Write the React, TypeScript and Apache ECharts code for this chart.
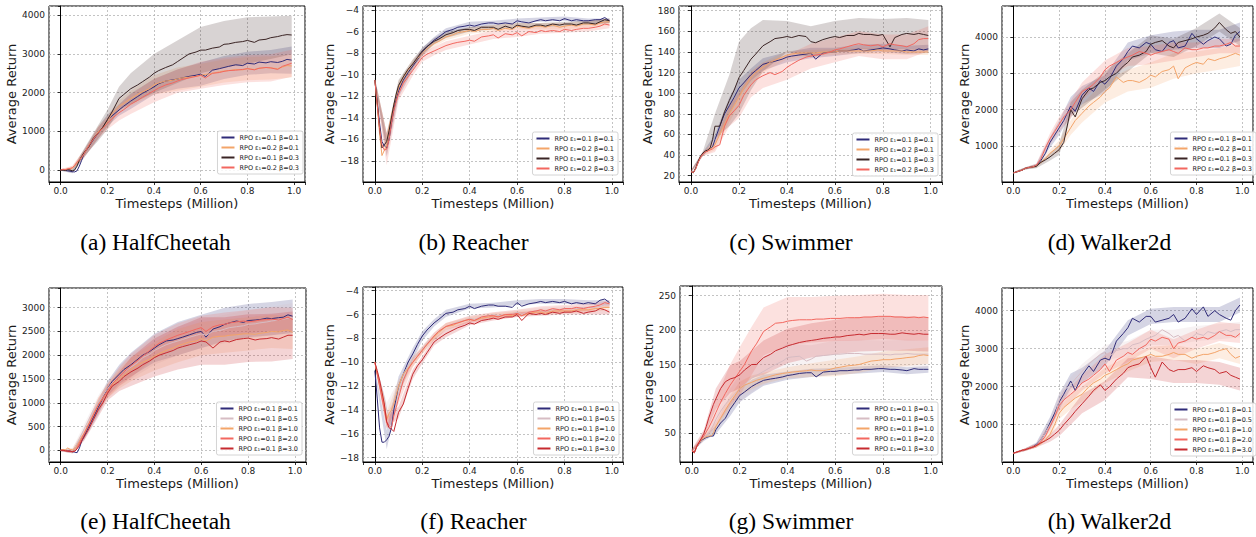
import React, { useEffect, useRef } from "react";
import * as echarts from "echarts";

const FONT = "DejaVu Sans";

// shared x positions (million timesteps)
const X = [0, 0.01, 0.02, 0.03, 0.04, 0.05, 0.06, 0.07, 0.08, 0.09, 0.1,
  0.12, 0.14, 0.16, 0.18, 0.2, 0.22,
  0.25, 0.27, 0.3, 0.33, 0.35, 0.38, 0.4, 0.42, 0.45, 0.48,
  0.5, 0.52, 0.55, 0.58, 0.6, 0.62, 0.65, 0.68, 0.7, 0.72,
  0.75, 0.78, 0.8, 0.83, 0.85, 0.88, 0.9, 0.93, 0.95, 0.97, 0.99];
// x positions where the shaded band half-widths were read
const BAND_X = [0, 0.05, 0.1, 0.16, 0.2, 0.25, 0.3, 0.4, 0.5, 0.6, 0.7, 0.8, 0.9, 0.99];

const X_TICKS = [0, 0.2, 0.4, 0.6, 0.8, 1.0];

const NAMES_TOP = ["RPO ε₁=0.1 β=0.1", "RPO ε₁=0.2 β=0.1", "RPO ε₁=0.1 β=0.3", "RPO ε₁=0.2 β=0.3"];
const NAMES_BOTTOM = ["RPO ε₁=0.1 β=0.1", "RPO ε₁=0.1 β=0.5", "RPO ε₁=0.1 β=1.0", "RPO ε₁=0.1 β=2.0", "RPO ε₁=0.1 β=3.0"];
const COLORS_TOP = ["#2f2b78", "#f3a469", "#3a2424", "#f2675f"];
const COLORS_BOTTOM = ["#2f2b78", "#d6bcc3", "#f3a469", "#f2675f", "#c62a2f"];

// (a) HalfCheetah
const A1 = [0, 5, -10, -20, -30, -45, -50, -20, 100, 250, 420, 600, 780, 950, 1100, 1280, 1400, 1550, 1650, 1780, 1900, 1980, 2080, 2150, 2230, 2300, 2330, 2350, 2380, 2420, 2450, 2480, 2420, 2580, 2620, 2650, 2680, 2720, 2700, 2760, 2740, 2790, 2770, 2800, 2780, 2810, 2860, 2840];
const A2 = [0, 10, 0, 30, 20, 50, 100, 180, 250, 320, 420, 620, 800, 980, 1100, 1250, 1450, 1650, 1720, 1850, 1950, 2020, 2100, 2200, 2250, 2300, 2320, 2350, 2380, 2400, 2420, 2450, 2470, 2500, 2540, 2560, 2570, 2600, 2590, 2620, 2600, 2630, 2650, 2640, 2620, 2660, 2700, 2690];
const A3 = [0, 0, -10, 10, 0, -20, 0, 100, 250, 350, 450, 600, 820, 950, 1100, 1300, 1500, 1850, 1950, 2100, 2200, 2280, 2400, 2500, 2570, 2650, 2720, 2800, 2880, 3000, 3050, 3100, 3100, 3150, 3180, 3250, 3260, 3300, 3320, 3350, 3300, 3360, 3380, 3420, 3450, 3480, 3500, 3490];
const A4 = [0, 20, 10, 30, 40, 60, 120, 200, 260, 330, 420, 620, 800, 950, 1080, 1200, 1330, 1480, 1560, 1700, 1800, 1880, 1980, 2050, 2120, 2200, 2250, 2300, 2340, 2380, 2420, 2450, 2380, 2500, 2520, 2550, 2570, 2580, 2600, 2620, 2590, 2630, 2650, 2640, 2600, 2680, 2720, 2760];
const A1W = [20, 40, 100, 150, 150, 150, 200, 200, 250, 300, 300, 300, 300, 350];
const A2W = [20, 50, 100, 150, 150, 150, 200, 250, 300, 300, 300, 300, 300, 300];
const A3W = [20, 50, 100, 200, 250, 300, 400, 500, 550, 600, 600, 600, 550, 500];
const A4W = [20, 50, 100, 150, 150, 200, 250, 300, 300, 350, 350, 350, 350, 350];

// (b) Reacher
const B1 = [-10.5, -12.5, -14.5, -16.2, -16.6, -16.8, -16.0, -14.5, -13.2, -12.2, -11.5, -10.5, -9.8, -9.2, -8.6, -7.9, -7.4, -6.8, -6.5, -6.0, -5.8, -5.6, -5.5, -5.4, -5.5, -5.3, -5.2, -5.2, -5.3, -5.2, -5.3, -5.0, -5.1, -5.2, -5.0, -4.9, -5.0, -4.9, -5.0, -4.8, -5.0, -4.9, -5.0, -5.0, -4.9, -4.9, -4.7, -5.0];
const B2 = [-10.5, -12.8, -15.5, -17.5, -17.0, -16.5, -15.0, -13.8, -12.8, -12.0, -11.2, -10.3, -9.6, -9.0, -8.5, -8.0, -7.6, -7.1, -6.9, -6.5, -6.3, -6.1, -6.0, -5.9, -6.0, -5.8, -5.8, -5.7, -5.9, -5.7, -5.8, -5.5, -5.6, -5.7, -5.5, -5.5, -5.6, -5.4, -5.6, -5.5, -5.4, -5.5, -5.3, -5.3, -5.4, -5.2, -5.1, -5.1];
const B3 = [-10.5, -12.6, -15.0, -16.8, -16.5, -16.2, -15.2, -14.0, -12.8, -11.8, -11.0, -10.2, -9.5, -9.0, -8.4, -7.8, -7.4, -6.9, -6.7, -6.3, -6.1, -5.9, -5.8, -5.8, -5.9, -5.6, -5.6, -5.6, -5.8, -5.5, -5.7, -5.4, -5.5, -5.6, -5.4, -5.4, -5.5, -5.3, -5.4, -5.3, -5.3, -5.4, -5.2, -5.2, -5.3, -5.1, -4.9, -5.0];
const B4 = [-10.5, -12.8, -15.0, -16.5, -17.0, -16.9, -16.0, -14.5, -13.3, -12.5, -11.8, -10.8, -10.2, -9.6, -9.0, -8.4, -8.1, -7.8, -7.6, -7.3, -7.1, -7.0, -6.9, -6.8, -6.9, -6.5, -6.4, -6.3, -6.6, -6.2, -6.3, -6.1, -6.4, -6.0, -6.1, -5.9, -6.0, -5.9, -6.0, -5.8, -5.9, -5.8, -5.7, -5.7, -5.6, -5.5, -5.3, -5.4];
const B1W = [0.2, 0.8, 0.6, 0.4, 0.4, 0.3, 0.3, 0.3, 0.2, 0.2, 0.2, 0.2, 0.2, 0.2];
const B2W = [0.2, 1.0, 0.6, 0.4, 0.3, 0.3, 0.3, 0.3, 0.3, 0.3, 0.3, 0.3, 0.3, 0.3];
const B3W = [0.2, 0.8, 0.5, 0.4, 0.3, 0.3, 0.3, 0.2, 0.2, 0.2, 0.2, 0.2, 0.2, 0.2];
const B4W = [0.2, 1.5, 0.6, 0.5, 0.4, 0.4, 0.4, 0.4, 0.4, 0.4, 0.3, 0.3, 0.3, 0.3];

// (c) Swimmer
const C1 = [24, 23, 27, 33, 38, 41, 43, 44, 46, 48, 55, 68, 80, 88, 96, 105, 110, 118, 122, 128, 130, 131, 133, 135, 136, 137, 138, 139, 133, 139, 140, 140, 141, 141, 142, 143, 141, 142, 143, 144, 143, 142, 141, 142, 141, 143, 142, 143];
const C2 = [24, 23, 27, 33, 38, 41, 43, 44, 46, 47, 50, 60, 70, 80, 88, 96, 105, 115, 120, 125, 130, 132, 135, 137, 138, 139, 139, 139, 139, 140, 140, 140, 141, 141, 141, 141, 141, 141, 142, 141, 141, 141, 141, 140, 140, 140, 140, 140];
const C3 = [24, 23, 28, 34, 39, 42, 44, 45, 47, 55, 68, 68, 82, 93, 103, 115, 122, 133, 138, 146, 150, 153, 154, 155, 154, 156, 155, 150, 149, 152, 154, 155, 154, 156, 156, 158, 157, 157, 156, 157, 145, 154, 157, 158, 157, 158, 157, 156];
const C4 = [24, 23, 27, 33, 38, 41, 43, 44, 45, 46, 48, 50, 68, 78, 83, 88, 98, 108, 113, 117, 120, 118, 121, 125, 128, 132, 135, 136, 137, 138, 140, 142, 143, 145, 147, 148, 147, 146, 147, 145, 148, 147, 146, 145, 148, 152, 153, 153];
const C1W = [1, 2, 5, 8, 8, 6, 6, 5, 5, 4, 4, 4, 4, 4];
const C2W = [1, 2, 5, 8, 8, 6, 5, 4, 3, 3, 3, 3, 3, 3];
const C3W = [1, 2, 12, 25, 35, 30, 25, 15, 15, 15, 15, 15, 15, 15];
const C4W = [1, 2, 5, 10, 12, 12, 12, 12, 12, 12, 12, 12, 12, 12];

// (d) Walker2d
const D1 = [260, 280, 300, 320, 340, 380, 400, 410, 420, 440, 460, 600, 800, 1100, 1300, 1500, 1700, 2100, 1950, 2400, 2600, 2500, 2800, 2700, 2850, 3200, 3400, 3600, 3750, 3700, 3850, 3800, 3650, 3600, 3850, 3900, 3700, 3750, 4100, 3950, 3800, 3900, 4000, 3950, 3750, 3800, 4050, 4150];
const D2 = [260, 280, 300, 320, 340, 380, 400, 410, 420, 430, 450, 550, 650, 800, 900, 1000, 1200, 1500, 1700, 1900, 2100, 2200, 2350, 2500, 2600, 2900, 2750, 2800, 2800, 2750, 2850, 2950, 2900, 3050, 3100, 3200, 2850, 3150, 3250, 3300, 3250, 3400, 3350, 3400, 3450, 3500, 3550, 3500];
const D3 = [260, 280, 300, 320, 340, 380, 400, 410, 420, 430, 440, 550, 620, 700, 800, 900, 1100, 2000, 1800, 2300, 2550, 2600, 2750, 2800, 2900, 3000, 3200, 3300, 3450, 3500, 3600, 3800, 3850, 3900, 3750, 3700, 3850, 3900, 3950, 4000, 4050, 4100, 4250, 4400, 4200, 4100, 4150, 4000];
const D4 = [260, 280, 300, 320, 340, 380, 400, 410, 420, 440, 470, 650, 950, 1200, 1400, 1600, 1800, 2000, 2200, 2500, 2600, 2700, 2900, 3100, 3200, 3300, 3400, 3450, 3500, 3600, 3550, 3500, 3550, 3600, 3650, 3600, 3550, 3700, 3650, 3650, 3700, 3700, 3750, 3750, 3800, 3850, 3750, 3750];
const D1W = [20, 30, 50, 150, 200, 250, 250, 250, 250, 250, 250, 250, 250, 250];
const D2W = [20, 30, 50, 100, 150, 200, 250, 300, 300, 350, 350, 300, 300, 300];
const D3W = [20, 30, 50, 100, 150, 200, 250, 250, 250, 250, 250, 250, 250, 250];
const D4W = [20, 30, 50, 150, 200, 250, 250, 250, 250, 250, 250, 200, 200, 200];

// (e) HalfCheetah
const E1 = [0, 0, -5, -10, -15, -30, -40, -50, 50, 200, 300, 500, 700, 900, 1100, 1300, 1450, 1600, 1700, 1800, 1920, 2000, 2080, 2150, 2220, 2300, 2320, 2350, 2380, 2430, 2480, 2500, 2380, 2550, 2600, 2650, 2680, 2720, 2690, 2730, 2740, 2750, 2780, 2770, 2790, 2800, 2850, 2820];
const E2 = [0, 10, 0, 30, 10, 0, 50, 150, 250, 350, 450, 650, 850, 1000, 1150, 1300, 1420, 1550, 1650, 1750, 1850, 1950, 2020, 2100, 2150, 2220, 2270, 2300, 2330, 2380, 2420, 2450, 2420, 2500, 2520, 2550, 2580, 2600, 2620, 2650, 2660, 2680, 2700, 2720, 2740, 2760, 2780, 2800];
const E3 = [0, 20, 10, 50, 20, 10, 30, 100, 180, 280, 350, 550, 750, 950, 1100, 1250, 1380, 1500, 1580, 1700, 1800, 1850, 1920, 1980, 2030, 2100, 2150, 2200, 2230, 2280, 2300, 2350, 2300, 2380, 2400, 2400, 2420, 2430, 2450, 2450, 2440, 2460, 2480, 2500, 2490, 2520, 2530, 2480];
const E4 = [0, 0, -10, -10, -20, -30, -20, 50, 150, 250, 350, 550, 750, 950, 1100, 1250, 1400, 1550, 1650, 1780, 1900, 1980, 2100, 2180, 2250, 2320, 2380, 2420, 2450, 2500, 2550, 2580, 2500, 2600, 2640, 2650, 2680, 2700, 2720, 2700, 2720, 2740, 2750, 2760, 2740, 2770, 2800, 2750];
const E5 = [0, 0, -10, -20, -20, -30, -20, 30, 100, 200, 280, 450, 650, 850, 1000, 1200, 1350, 1450, 1550, 1650, 1730, 1800, 1880, 1950, 2000, 2050, 2100, 2150, 2180, 2220, 2260, 2300, 2280, 2150, 2280, 2300, 2280, 2330, 2350, 2360, 2320, 2340, 2350, 2370, 2340, 2380, 2420, 2420];
const E1W = [20, 30, 80, 150, 150, 200, 250, 300, 350, 350, 350, 350, 350, 350];
const E2W = [20, 40, 100, 150, 150, 200, 250, 300, 300, 300, 300, 300, 300, 300];
const E3W = [20, 40, 100, 150, 150, 200, 250, 300, 350, 350, 350, 350, 350, 350];
const E4W = [20, 30, 80, 150, 150, 200, 250, 250, 250, 250, 250, 250, 250, 250];
const E5W = [20, 30, 80, 150, 150, 200, 300, 400, 450, 500, 500, 500, 500, 500];

// (f) Reacher
const F1 = [-10.7, -13.0, -15.5, -16.7, -16.7, -16.5, -16.2, -15.5, -14.0, -13.0, -12.0, -11.0, -10.0, -9.3, -8.5, -7.8, -7.3, -6.7, -6.4, -5.9, -5.8, -5.6, -5.5, -5.3, -5.5, -5.3, -5.2, -5.2, -5.3, -5.3, -5.4, -5.0, -5.3, -5.1, -5.0, -4.9, -5.0, -4.9, -5.0, -4.9, -5.1, -5.0, -5.1, -5.0, -5.1, -4.8, -4.7, -5.0];
const F2 = [-10.0, -10.8, -11.5, -12.2, -13.0, -14.0, -14.5, -14.0, -13.2, -12.5, -12.0, -11.0, -10.3, -9.8, -9.3, -8.9, -8.4, -7.8, -7.4, -7.0, -6.8, -6.6, -6.5, -6.3, -6.4, -6.2, -6.1, -6.0, -6.1, -6.0, -6.0, -5.8, -6.0, -5.8, -5.7, -5.6, -5.7, -5.6, -5.6, -5.5, -5.5, -5.5, -5.4, -5.4, -5.4, -5.3, -5.2, -5.2];
const F3 = [-10.0, -11.0, -11.8, -12.5, -13.5, -14.8, -14.3, -14.0, -13.5, -12.8, -12.0, -11.0, -10.5, -10.0, -9.5, -9.0, -8.5, -7.9, -7.5, -7.0, -6.9, -6.7, -6.5, -6.4, -6.5, -6.3, -6.2, -6.1, -6.2, -6.0, -6.1, -5.9, -6.1, -5.9, -5.8, -5.8, -5.9, -5.7, -5.7, -5.7, -5.7, -5.6, -5.6, -5.6, -5.5, -5.5, -5.4, -5.4];
const F4 = [-10.0, -11.0, -12.0, -13.0, -14.0, -15.0, -15.3, -15.5, -14.5, -13.8, -13.0, -11.5, -10.6, -10.0, -9.5, -9.0, -8.5, -7.8, -7.4, -7.0, -6.8, -6.7, -6.5, -6.4, -6.5, -6.2, -6.1, -6.1, -6.2, -6.0, -6.0, -5.9, -6.1, -5.8, -5.7, -5.6, -5.7, -5.5, -5.6, -5.5, -5.5, -5.4, -5.5, -5.4, -5.3, -5.2, -5.0, -5.1];
const F5 = [-10.0, -10.7, -11.5, -12.5, -13.5, -15.0, -15.5, -15.6, -15.8, -15.0, -14.2, -13.5, -12.2, -11.0, -10.3, -9.8, -9.2, -8.3, -8.0, -7.6, -7.3, -7.1, -6.9, -6.7, -6.8, -6.5, -6.4, -6.3, -6.4, -6.2, -6.2, -6.0, -6.5, -5.9, -6.0, -5.9, -6.0, -5.8, -5.9, -5.8, -5.8, -5.7, -5.9, -5.8, -5.7, -5.5, -5.6, -5.8];
const F1W = [0.2, 0.8, 0.8, 0.5, 0.4, 0.3, 0.3, 0.2, 0.2, 0.2, 0.2, 0.2, 0.2, 0.2];
const F2W = [0.2, 0.6, 0.5, 0.4, 0.3, 0.3, 0.3, 0.2, 0.2, 0.2, 0.2, 0.2, 0.2, 0.2];
const F3W = [0.2, 0.6, 0.5, 0.4, 0.3, 0.3, 0.3, 0.2, 0.2, 0.2, 0.2, 0.2, 0.2, 0.2];
const F4W = [0.2, 0.6, 0.5, 0.4, 0.3, 0.3, 0.3, 0.3, 0.3, 0.3, 0.3, 0.3, 0.3, 0.3];
const F5W = [0.2, 0.5, 0.5, 0.4, 0.3, 0.3, 0.3, 0.2, 0.2, 0.2, 0.2, 0.2, 0.2, 0.2];

// (g) Swimmer
const G1 = [25, 22, 30, 35, 40, 42, 44, 45, 46, 46, 55, 65, 72, 85, 95, 105, 110, 118, 122, 127, 129, 130, 132, 134, 135, 137, 138, 138, 132, 139, 140, 140, 141, 141, 142, 142, 143, 143, 144, 144, 143, 143, 142, 141, 144, 143, 143, 143];
const G2 = [25, 22, 30, 36, 41, 44, 47, 50, 55, 62, 70, 82, 92, 100, 108, 115, 121, 130, 134, 140, 146, 150, 155, 160, 161, 162, 155, 158, 162, 163, 164, 165, 165, 166, 166, 166, 165, 165, 165, 165, 164, 165, 165, 166, 165, 165, 165, 165];
const G3 = [25, 22, 30, 36, 41, 43, 45, 46, 46, 50, 60, 72, 84, 95, 105, 115, 120, 124, 127, 130, 133, 135, 137, 138, 139, 140, 141, 142, 141, 141, 143, 145, 146, 148, 149, 150, 152, 155, 156, 157, 157, 158, 159, 160, 161, 163, 164, 163];
const G4 = [25, 22, 31, 37, 42, 46, 52, 58, 65, 72, 80, 95, 108, 120, 130, 140, 150, 170, 180, 198, 205, 210, 211, 213, 214, 215, 215, 215, 216, 216, 217, 217, 217, 218, 218, 218, 219, 219, 220, 220, 220, 219, 219, 218, 219, 218, 219, 218];
const G5 = [25, 22, 31, 37, 43, 50, 60, 72, 82, 92, 100, 115, 125, 129, 131, 135, 142, 150, 150, 160, 165, 170, 174, 177, 179, 182, 184, 185, 186, 188, 189, 190, 190, 192, 193, 194, 193, 195, 195, 195, 194, 194, 196, 195, 194, 195, 194, 194];
const G1W = [2, 3, 6, 10, 10, 10, 8, 6, 6, 5, 5, 5, 5, 5];
const G2W = [2, 3, 8, 15, 20, 20, 20, 20, 20, 20, 20, 20, 20, 20];
const G3W = [2, 3, 6, 10, 10, 10, 8, 8, 10, 12, 12, 12, 12, 12];
const G4W = [2, 5, 20, 30, 35, 35, 35, 35, 33, 33, 33, 33, 33, 33];
const G5W = [2, 5, 15, 20, 20, 20, 25, 25, 25, 25, 25, 25, 25, 25];

// (h) Walker2d
const H1 = [250, 270, 290, 310, 330, 340, 360, 380, 400, 430, 480, 600, 800, 1050, 1300, 1600, 1800, 2150, 1900, 2300, 2550, 2400, 2700, 2750, 2700, 3200, 3400, 3550, 3800, 3700, 3850, 3850, 3700, 3750, 3800, 3900, 3700, 3800, 4050, 3900, 4100, 3850, 4000, 3900, 3800, 3750, 4000, 4150];
const H2 = [250, 270, 290, 310, 330, 340, 360, 380, 400, 420, 450, 600, 800, 1000, 1200, 1650, 1900, 2050, 2200, 2400, 2600, 2700, 2850, 2900, 2800, 2950, 3000, 3000, 3100, 3150, 3250, 3300, 3350, 3500, 3400, 3300, 3350, 3200, 3300, 3400, 3350, 3450, 3400, 3450, 3500, 3450, 3500, 3500];
const H3 = [250, 270, 290, 310, 330, 340, 360, 380, 400, 420, 440, 500, 600, 750, 1000, 1300, 1450, 1600, 1700, 1800, 2000, 2100, 2200, 2300, 2350, 2450, 2550, 2600, 2700, 2750, 2800, 2850, 2800, 2800, 2850, 2900, 2850, 2850, 2750, 2800, 2850, 2850, 2900, 2950, 3000, 2850, 2750, 2800];
const H4 = [250, 270, 290, 310, 330, 340, 360, 380, 400, 420, 450, 550, 700, 950, 1200, 1500, 1650, 1800, 1900, 2100, 2200, 2300, 2450, 2600, 2400, 2700, 2800, 2900, 2850, 3000, 3100, 3250, 3200, 3300, 3250, 3000, 3150, 3200, 3300, 3250, 3300, 3250, 3350, 3450, 3350, 3350, 3300, 3400];
const H5 = [250, 270, 290, 310, 330, 340, 360, 380, 400, 420, 450, 520, 580, 650, 750, 850, 1000, 1200, 1350, 1550, 1750, 1900, 2050, 1900, 2000, 2200, 2350, 2500, 2550, 2600, 2800, 2500, 2250, 2650, 2450, 2400, 2450, 2450, 2500, 2400, 2550, 2500, 2450, 2350, 2400, 2300, 2250, 2200];
const H1W = [20, 30, 50, 150, 200, 200, 200, 200, 200, 200, 200, 200, 200, 200];
const H2W = [20, 30, 50, 150, 200, 200, 200, 200, 200, 200, 200, 200, 200, 200];
const H3W = [20, 30, 50, 100, 150, 200, 200, 200, 200, 200, 200, 200, 200, 200];
const H4W = [20, 30, 50, 100, 150, 200, 200, 250, 250, 250, 250, 250, 250, 250];
const H5W = [20, 30, 50, 100, 150, 200, 250, 250, 250, 300, 300, 300, 300, 300];

const PANELS = [
  { caption: "(a) HalfCheetah", cx: 155.5, cy: 242, grid: [49, 6, 256, 176], ymin: -310, ymax: 4240, split: 5, step: 1000, gap: 29, lr: 953, lt: 131, names: NAMES_TOP, colors: COLORS_TOP, means: [A1, A2, A3, A4], widths: [A1W, A2W, A3W, A4W] },
  { caption: "(b) Reacher", cx: 473.5, cy: 242, grid: [363, 6, 260, 176], ymin: -19.95, ymax: -3.63, split: 8, step: 2, gap: 25.5, lr: 638, lt: 132, names: NAMES_TOP, colors: COLORS_TOP, means: [B1, B2, B3, B4], widths: [B1W, B2W, B3W, B4W] },
  { caption: "(c) Swimmer", cx: 791, cy: 242, grid: [679, 6, 263, 176], ymin: 13.9, ymax: 184.6, split: 8, step: 20, gap: 23.5, lr: 318, lt: 133, names: NAMES_TOP, colors: COLORS_TOP, means: [C1, C2, C3, C4], widths: [C1W, C2W, C3W, C4W] },
  { caption: "(d) Walker2d", cx: 1109.5, cy: 242, grid: [1002, 6, 256, 176], ymin: 9, ymax: 4853, split: 5, step: 1000, gap: 28.5, lr: 0, lt: 132, names: NAMES_TOP, colors: COLORS_TOP, means: [D1, D2, D3, D4], widths: [D1W, D2W, D3W, D4W] },
  { caption: "(e) HalfCheetah", cx: 155.5, cy: 521, grid: [49, 288, 257, 174], ymin: -246, ymax: 3414, split: 7, step: 500, gap: 30, lr: 954, lt: 402, names: NAMES_BOTTOM, colors: COLORS_BOTTOM, means: [E1, E2, E3, E4, E5], widths: [E1W, E2W, E3W, E4W, E5W] },
  { caption: "(f) Reacher", cx: 473.5, cy: 521, grid: [363, 287, 260, 175], ymin: -18.36, ymax: -3.69, split: 7, step: 2, gap: 25.5, lr: 637, lt: 402, names: NAMES_BOTTOM, colors: COLORS_BOTTOM, means: [F1, F2, F3, F4, F5], widths: [F1W, F2W, F3W, F4W, F5W] },
  { caption: "(g) Swimmer", cx: 791, cy: 521, grid: [680, 286, 262, 176], ymin: 8.3, ymax: 264.1, split: 5, step: 50, gap: 25.5, lr: 318, lt: 402, names: NAMES_BOTTOM, colors: COLORS_BOTTOM, means: [G1, G2, G3, G4, G5], widths: [G1W, G2W, G3W, G4W, G5W] },
  { caption: "(h) Walker2d", cx: 1109.5, cy: 521, grid: [1002, 288, 256, 174], ymin: 18, ymax: 4597, split: 5, step: 1000, gap: 28.5, lr: 0, lt: 403, names: NAMES_BOTTOM, colors: COLORS_BOTTOM, means: [H1, H2, H3, H4, H5], widths: [H1W, H2W, H3W, H4W, H5W] },
];

function rgba(hex: string, a: number) {
  const n = parseInt(hex.slice(1), 16);
  return `rgba(${(n >> 16) & 255},${(n >> 8) & 255},${n & 255},${a})`;
}

function isMultiple(v: number, step: number) {
  const r = v / step;
  return Math.abs(r - Math.round(r)) < 1e-6;
}

function buildOption() {
  const grid: any[] = [];
  const xAxis: any[] = [];
  const yAxis: any[] = [];
  const legend: any[] = [];
  const series: any[] = [];
  const graphic: any[] = [];

  PANELS.forEach((p, i) => {
    grid.push({
      left: p.grid[0], top: p.grid[1], width: p.grid[2], height: p.grid[3],
      show: true, borderColor: "#000", borderWidth: 1, backgroundColor: "rgba(0,0,0,0)",
    });
    xAxis.push({
      type: "value", gridIndex: i, min: -0.05, max: 1.047, splitNumber: 5,
      name: "Timesteps (Million)", nameLocation: "middle", nameGap: 15,
      nameTextStyle: { fontSize: 13, color: "#1a1a1a", fontFamily: FONT, fontWeight: "normal" },
      axisLine: { show: true, onZero: false, lineStyle: { color: "#000", width: 1 } },
      axisTick: { show: true, length: 3, lineStyle: { color: "#000", width: 0.8 } },
      axisLabel: {
        fontSize: 9, color: "#222", margin: 4, fontFamily: FONT,
        formatter: (v: number) => (X_TICKS.some((t) => Math.abs(t - v) < 1e-6) ? v.toFixed(1) : ""),
      },
      splitLine: { show: true, lineStyle: { color: "#b4b4b4", width: 0.8, type: [2, 2] } },
    });
    yAxis.push({
      type: "value", gridIndex: i, min: p.ymin, max: p.ymax, splitNumber: p.split,
      name: "Average Return", nameLocation: "middle", nameGap: p.gap,
      nameTextStyle: { fontSize: 13, color: "#1a1a1a", fontFamily: FONT, fontWeight: "normal" },
      axisLine: { show: true, lineStyle: { color: "#000", width: 1 } },
      axisTick: { show: true, length: 3, lineStyle: { color: "#000", width: 0.8 } },
      axisLabel: {
        fontSize: 9, color: "#222", margin: 4, fontFamily: FONT,
        formatter: (v: number) => {
          if (!isMultiple(v, p.step)) return "";
          const r = Math.round(v);
          return r < 0 ? "\u2212" + Math.abs(r) : String(r);
        },
      },
      splitLine: { show: true, lineStyle: { color: "#b4b4b4", width: 0.8, type: [2, 2] } },
    });
    legend.push({
      orient: "vertical", right: p.lr, top: p.lt,
      data: p.names.map((n) => ({ name: n, icon: "rect" })),
      itemWidth: 13, itemHeight: 2, itemGap: 3, padding: [3, 4, 3, 4],
      backgroundColor: "rgba(255,255,255,0.85)", borderColor: "#d4d4d4", borderWidth: 1, borderRadius: 2,
      selectedMode: false, z: 10,
      textStyle: { fontSize: 6.5, color: "#222", fontFamily: FONT },
    });

    p.means.forEach((m, j) => {
      const color = p.colors[j];
      const w = p.widths[j];
      series.push({
        type: "custom", xAxisIndex: i, yAxisIndex: i, silent: true, clip: true, z: 2,
        data: [[BAND_X[0], m[0]]],
        renderItem: (_params: any, api: any) => {
          const upper = BAND_X.map((bx, k) => {
            const idx = X.indexOf(bx);
            return api.coord([bx, m[idx] + w[k]]);
          });
          const lower = BAND_X.map((bx, k) => {
            const idx = X.indexOf(bx);
            return api.coord([bx, m[idx] - w[k]]);
          }).reverse();
          return {
            type: "polygon",
            shape: { points: upper.concat(lower) },
            style: { fill: rgba(color, 0.2), stroke: "none" },
          };
        },
      });
      series.push({
        type: "line", name: p.names[j], xAxisIndex: i, yAxisIndex: i, silent: true, z: 3,
        data: X.map((x, k) => [x, m[k]]),
        showSymbol: false, symbol: "none",
        lineStyle: { width: 1, color },
        itemStyle: { color },
      });
    });

    graphic.push({
      type: "text", x: p.cx, y: p.cy, silent: true,
      style: {
        text: p.caption, fill: "#000", font: '23.5px "Liberation Serif"',
        align: "center", verticalAlign: "middle", textAlign: "center", textVerticalAlign: "middle",
      },
    });
  });

  return {
    animation: false,
    backgroundColor: "#fff",
    textStyle: { fontFamily: FONT },
    grid, xAxis, yAxis, legend, series, graphic,
  };
}

export default function App() {
  const ref = useRef<HTMLDivElement>(null);
  useEffect(() => {
    if (!ref.current) return;
    const chart = echarts.init(ref.current, null, { renderer: "svg", width: 1256, height: 537 });
    chart.setOption(buildOption() as any);
    return () => chart.dispose();
  }, []);
  return (
    <div
      ref={ref}
      style={{ position: "absolute", left: 0, top: 0, width: 1256, height: 537, background: "#fff" }}
    />
  );
}
